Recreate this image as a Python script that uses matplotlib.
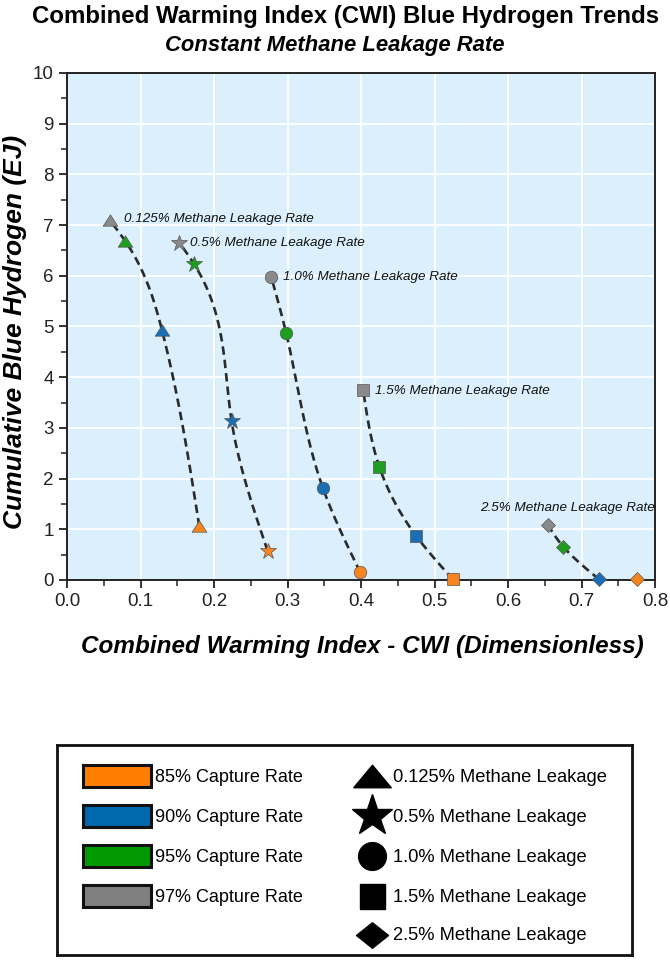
import numpy as np
import matplotlib
matplotlib.use("Agg")
import matplotlib.pyplot as plt
from matplotlib.patches import Rectangle
from matplotlib.ticker import MultipleLocator

plt.rcParams["font.family"] = ["Liberation Sans", "DejaVu Sans"]

# ==========================================
# Data
# ==========================================

capture_labels = ["85% Capture Rate", "90% Capture Rate", "95% Capture Rate", "97% Capture Rate"]
capture_colors = ["#f7841f", "#1a6fb4", "#1e9e1e", "#8a8a8a"]
capture_legend_colors = ["#ff8000", "#0068ad", "#009a00", "#808080"]

leak_labels = ["0.125%", "0.5%", "1.0%", "1.5%", "2.5%"]

# CWI values per leakage rate, ordered 85/90/95/97% capture
cwi_0125 = [0.180, 0.129, 0.079, 0.058]
cwi_05 = [0.273, 0.224, 0.173, 0.153]
cwi_10 = [0.399, 0.348, 0.298, 0.278]
cwi_15 = [0.525, 0.475, 0.425, 0.403]
cwi_25 = [0.775, 0.724, 0.675, 0.654]

# cumulative blue hydrogen (EJ)
h2_0125 = [1.06, 4.94, 6.69, 7.10]
h2_05 = [0.57, 3.13, 6.23, 6.65]
h2_10 = [0.15, 1.82, 4.88, 5.97]
h2_15 = [0.01, 0.87, 2.23, 3.74]
h2_25 = [0.01, 0.01, 0.66, 1.09]

cwi_all = [cwi_0125, cwi_05, cwi_10, cwi_15, cwi_25]
h2_all = [h2_0125, h2_05, h2_10, h2_15, h2_25]

# label anchor for each leakage curve
note_x = [0.077, 0.167, 0.294, 0.419, 0.562]
note_y = [7.12, 6.65, 5.98, 3.73, 1.42]

# ==========================================
# Marker shapes
# ==========================================

tri_chart = [(-1.0, -0.78), (1.0, -0.78), (0.0, 0.78), (-1.0, -0.78)]
tri_legend = [(-1.0, -0.6), (1.0, -0.6), (0.0, 0.6), (-1.0, -0.6)]
dia_legend = [(0.0, 0.8), (1.0, 0.0), (0.0, -0.8), (-1.0, 0.0), (0.0, 0.8)]

chart_markers = [tri_chart, "*", "o", "s", "D"]
chart_sizes = [10.5, 12, 9, 8, 7]
legend_markers = [tri_legend, "*", "o", "s", dia_legend]
legend_sizes = [27, 31, 20, 18, 23]


def natural_spline(t, v, tq):
    # natural cubic spline through the points
    t = np.asarray(t, float)
    v = np.asarray(v, float)
    n = len(t)
    h = np.diff(t)
    d = np.diff(v) / h
    A = np.zeros((n, n))
    b = np.zeros(n)
    A[0, 0] = 1
    A[-1, -1] = 1
    for i in range(1, n - 1):
        A[i, i - 1] = h[i - 1]
        A[i, i] = 2 * (h[i - 1] + h[i])
        A[i, i + 1] = h[i]
        b[i] = 6 * (d[i] - d[i - 1])
    M = np.linalg.solve(A, b)
    i = np.clip(np.searchsorted(t, tq) - 1, 0, n - 2)
    a = t[i + 1] - tq
    c = tq - t[i]
    hi = h[i]
    return (M[i] * a ** 3 / (6 * hi) + M[i + 1] * c ** 3 / (6 * hi)
            + (v[i] / hi - M[i] * hi / 6) * a + (v[i + 1] / hi - M[i + 1] * hi / 6) * c)


# ==========================================
# Figure
# ==========================================

fig = plt.figure(figsize=(6.7, 9.66), dpi=100)
ax = fig.add_axes([67 / 670, 1 - 580 / 966, 588 / 670, 507 / 966])
ax.set_facecolor("#dbf0fc")

ax.set_xlim(0, 0.8)
ax.set_ylim(0, 10)
ax.xaxis.set_major_locator(MultipleLocator(0.1))
ax.xaxis.set_minor_locator(MultipleLocator(0.05))
ax.yaxis.set_major_locator(MultipleLocator(1))
ax.yaxis.set_minor_locator(MultipleLocator(0.5))
ax.grid(True, which="major", color="white", linewidth=1.3)
ax.set_axisbelow(True)
ax.tick_params(which="major", direction="out", length=6, width=1.3, labelsize=13.5,
               colors="#222222")
ax.tick_params(which="minor", direction="out", length=4, width=1.1, colors="#222222")
ax.xaxis.set_major_formatter(plt.FormatStrFormatter("%.1f"))
for s in ax.spines.values():
    s.set_color("#222222")
    s.set_linewidth(1.4)

# dashed trend curves, x as a smooth function of y
for xs, ys in zip(cwi_all, h2_all):
    n = len(ys)
    for i, v in enumerate(ys):
        if v > 0.05:
            break
        n = len(ys) - i
    px = np.array(xs[len(ys) - n:])
    py = np.array(ys[len(ys) - n:])
    yy = np.linspace(py[0], py[-1], 200)
    ax.plot(natural_spline(py, px, yy), yy, ls=(0, (3.2, 1.9)), color="#2a2a2a", lw=1.9,
            zorder=2)

# markers
for j, (xs, ys) in enumerate(zip(cwi_all, h2_all)):
    for k in range(4):
        ax.plot(xs[k], ys[k], marker=chart_markers[j], ms=chart_sizes[j], color=capture_colors[k],
                mec="#555555", mew=0.5, ls="none", zorder=3, clip_on=False)
    ax.text(note_x[j], note_y[j], leak_labels[j] + " Methane Leakage Rate", fontsize=9.7,
            style="italic", va="center", ha="left", color="#111111", zorder=4)

ax.set_xlabel("Combined Warming Index - CWI (Dimensionless)", fontsize=17.5, fontweight="bold",
              style="italic")
ax.xaxis.set_label_coords(0.502, -0.108)
ax.set_ylabel("Cumulative Blue Hydrogen (EJ)", fontsize=19, fontweight="bold", style="italic")
ax.yaxis.set_label_coords(-0.068, 0.49)

fig.text(346 / 670, 1 - 17 / 966, "Combined Warming Index (CWI) Blue Hydrogen Trends",
         ha="center", va="center", fontsize=17.3, fontweight="bold")
fig.text(0.5, 1 - 46 / 966, "Constant Methane Leakage Rate", ha="center", va="center",
         fontsize=15.8, fontweight="bold", style="italic")

# ==========================================
# Legend box (drawn manually)
# ==========================================

lax = fig.add_axes([57 / 670, 1 - 955 / 966, 575 / 670, 210 / 966])
lax.set_xlim(0, 575)
lax.set_ylim(210, 0)
lax.set_xticks([])
lax.set_yticks([])
for s in lax.spines.values():
    s.set_linewidth(2)
    s.set_color("#111111")

row_y = [31, 71, 111, 151, 190]
for i, lab in enumerate(capture_labels):
    lax.add_patch(Rectangle((26, row_y[i] - 11), 68, 22, facecolor=capture_legend_colors[i],
                            edgecolor="#111111", lw=2.2))
    lax.text(98, row_y[i] + 1, lab, fontsize=13, va="center", ha="left")

for i, lab in enumerate(leak_labels):
    lax.plot(315, row_y[i], marker=legend_markers[i], ms=legend_sizes[i], color="black",
             ls="none")
    lax.text(336, row_y[i] + 1, lab + " Methane Leakage", fontsize=13.2, va="center", ha="left")

fig.savefig("out.png", dpi=100)
